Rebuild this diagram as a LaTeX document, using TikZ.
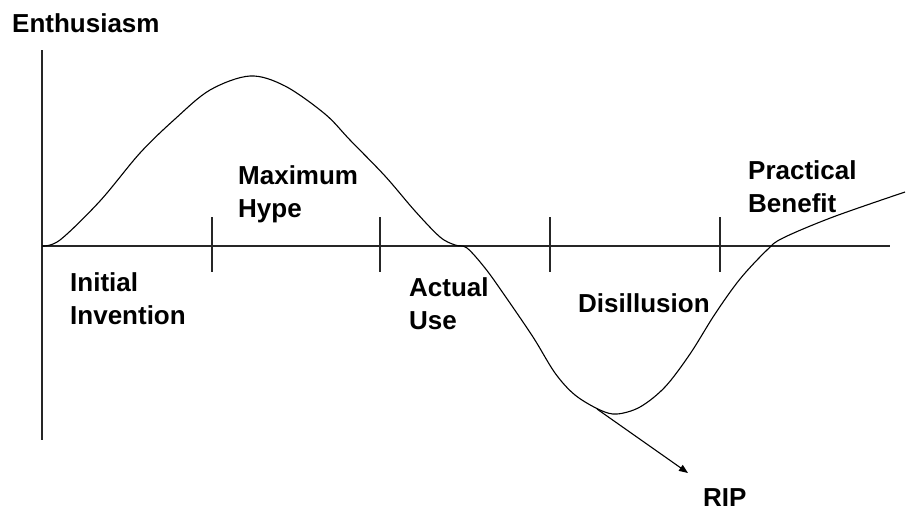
\documentclass[tikz,border=0pt]{standalone}
\usepackage{fontspec}
\setmainfont{Liberation Sans}
\usetikzlibrary{arrows.meta}
\tikzset{
  lbl/.style={anchor=north west, inner sep=0pt, align=left,
    font=\bfseries\fontsize{26pt}{33.5pt}\selectfont},
  axis/.style={line width=1.6pt, black!85},
  tickmark/.style={line width=1.4pt, black!85},
  curve/.style={line width=1.1pt, black},
  riparrow/.style={line width=1.1pt, black, -{Triangle[length=9pt,width=7pt]}}
}
\begin{document}
\begin{tikzpicture}[x=1pt,y=-1pt]
\useasboundingbox (0,0) rectangle (906,512);
% axes
\coordinate (ytop) at (42,50);
\coordinate (ybot) at (42,440);
\coordinate (xleft) at (42,246);
\coordinate (xright) at (890,246);
\draw[axis] (ytop) -- (ybot);
\draw[axis] (xleft) -- (xright);
% ticks
\foreach \x/\n in {212/a,380/b,550/c,720/d}{
  \coordinate (t\n1) at (\x,217);
  \coordinate (t\n2) at (\x,272);
  \draw[tickmark] (t\n1) -- (t\n2);
}
% curve
\draw[curve] plot[smooth, tension=0.55] coordinates {
 (42,246) (60,240) (100,201) (140,153) (175,119) (210,90) (250,76)
 (285,86) (325,114) (350,140) (385,176) (415,211) (440,237) (455,245)
 (467,248) (485,268) (503,293) (533,337) (555,373) (575,395) (600,410)
 (617,414) (640,407) (665,387) (690,354) (715,314) (740,279) (767,250)
 (783,238) (833,217) (905,192)};
% RIP arrow
\coordinate (ripstart) at (597,409);
\coordinate (riptip) at (688,473);
\draw[riparrow] (ripstart) -- (riptip);
% labels
\node[lbl] (enth) at (12,13) {Enthusiasm};
\node[lbl] (hype) at (238,165) {Maximum\\Hype};
\node[lbl] (init) at (70,272) {Initial\\Invention};
\node[lbl] (use) at (409,277) {Actual\\Use};
\node[lbl] (dis) at (578,293) {Disillusion};
\node[lbl] (prac) at (748,160) {Practical\\Benefit};
\node[lbl] (rip) at (703,488) {RIP};
\end{tikzpicture}
\end{document}
